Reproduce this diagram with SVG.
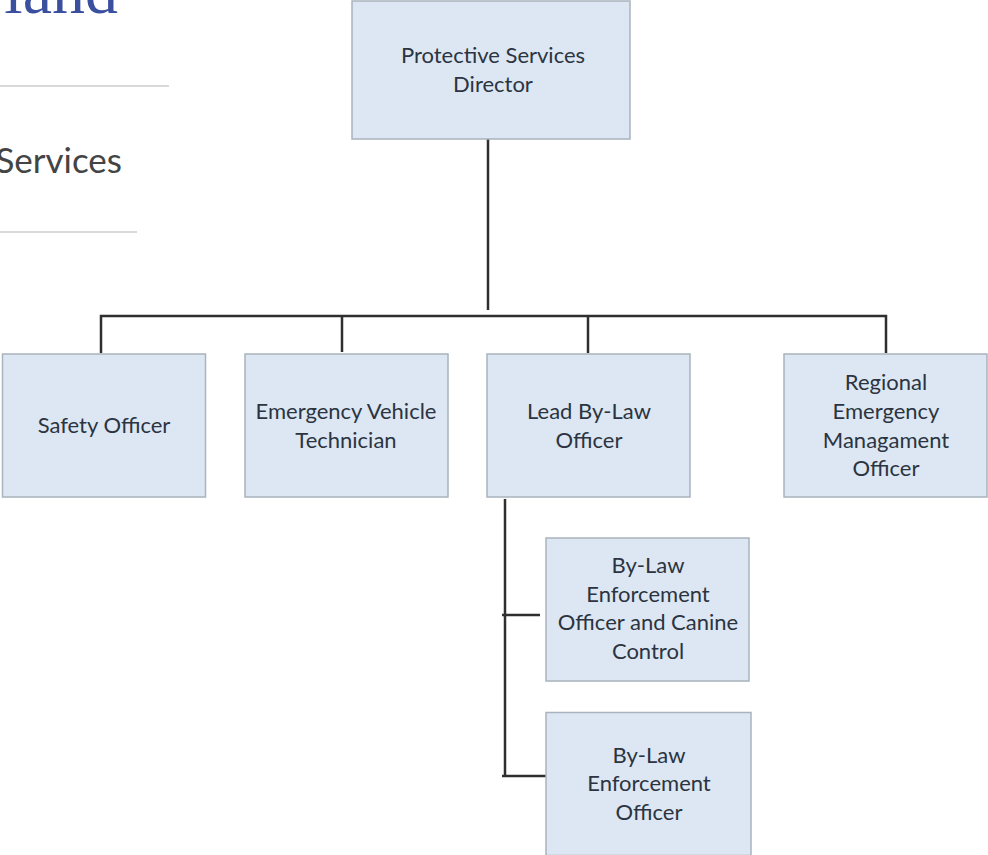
<svg xmlns="http://www.w3.org/2000/svg" width="988" height="855" viewBox="0 0 988 855">
<style>
.box{fill:#dce7f3;stroke:#a9b3bd;stroke-width:1.5}
.t{font-family:"Lato","Open Sans",sans-serif;font-size:22px;fill:#2b3440;text-anchor:middle}
.c{fill:none;stroke:#2f2f2f;stroke-width:2.5}
.r{stroke:#d9d9d9;stroke-width:2;fill:none}
</style>
<rect width="988" height="855" fill="#fff"/>
<g id="header">
<text x="118" y="13" font-family="Liberation Serif,serif" font-size="66" fill="#3b4f9f" text-anchor="end">land</text>
<line class="r" x1="0" y1="86" x2="169" y2="86"/>
<text x="122" y="173" font-family="Lato,Open Sans,sans-serif" font-size="35" fill="#444" text-anchor="end">Services</text>
<line class="r" x1="0" y1="232" x2="137" y2="232"/>
</g>
<g id="connectors">
<path class="c" d="M488 139V310"/>
<path class="c" d="M101 353V316H886V353"/>
<path class="c" d="M342 316V352"/>
<path class="c" d="M588 316V353"/>
<path class="c" d="M505 499V776"/>
<path class="c" d="M502 615H540"/>
<path class="c" d="M502 776H546"/>
</g>
<g id="director"><rect class="box" x="352" y="1" width="278" height="138"/><text class="t" x="493" y="63">Protective Services</text><text class="t" x="493" y="92">Director</text></g>
<g id="safety"><rect class="box" x="2.500" y="354" width="203" height="143"/><text class="t" x="104" y="433">Safety Officer</text></g>
<g id="evt"><rect class="box" x="245" y="354" width="203" height="143"/><text class="t" x="346" y="419">Emergency Vehicle</text><text class="t" x="346" y="448">Technician</text></g>
<g id="lead"><rect class="box" x="487" y="354" width="203" height="143"/><text class="t" x="589" y="419">Lead By-Law</text><text class="t" x="589" y="448">Officer</text></g>
<g id="regional"><rect class="box" x="784" y="354" width="203" height="143"/><text class="t" x="886" y="390">Regional</text><text class="t" x="886" y="419">Emergency</text><text class="t" x="886" y="448">Managament</text><text class="t" x="886" y="476">Officer</text></g>
<g id="canine"><rect class="box" x="546" y="538" width="203" height="143"/><text class="t" x="648" y="573">By-Law</text><text class="t" x="648" y="602">Enforcement</text><text class="t" x="648" y="630">Officer and Canine</text><text class="t" x="648" y="659">Control</text></g>
<g id="officer"><rect class="box" x="546" y="712.500" width="205" height="143"/><text class="t" x="649" y="763">By-Law</text><text class="t" x="649" y="791">Enforcement</text><text class="t" x="649" y="820">Officer</text></g>
</svg>
